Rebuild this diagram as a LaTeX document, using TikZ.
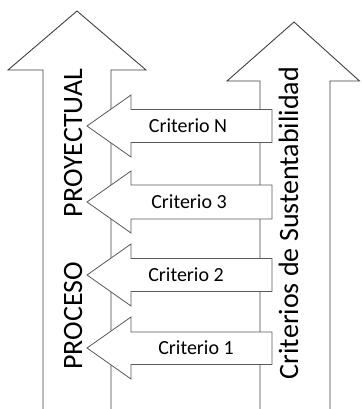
\documentclass[tikz,border=0pt]{standalone}
\usepackage{fontspec}
\setmainfont{Carlito}
\tikzset{
  bigarrow/.style={draw=black!75, fill=white, line width=0.9pt, line join=miter},
  critarrow/.style={draw=black!65, fill=white, line width=0.8pt, line join=miter},
  bigtext/.style={rotate=90, anchor=base, inner sep=0pt, font=\fontsize{28}{30}\selectfont},
  crittext/.style={inner sep=0pt, font=\fontsize{20}{22}\selectfont}
}
\begin{document}
\begin{tikzpicture}[x=1pt, y=-1pt]
        \useasboundingbox (0,0) rectangle (361,409);
        % big arrows
        \draw[bigarrow] (43,412) -- (43,70) -- (8,70) -- (77,11) -- (146,70) -- (111,70) -- (111,412);
        \draw[bigarrow] (260,412) -- (260,81) -- (227,81) -- (294,22) -- (359.5,81) -- (330,81) -- (330,412);
        % criterios
        \draw[critarrow] (272,109.5) -- (131,109.5) -- (131,95) -- (87,126) -- (131,157) -- (131,142.5) -- (272,142.5) -- cycle;
        \draw[critarrow] (272,185) -- (131,185) -- (131,171) -- (87,202) -- (131,233) -- (131,219) -- (272,219) -- cycle;
        \draw[critarrow] (272,258.5) -- (131,258.5) -- (131,244) -- (87,275) -- (131,306) -- (131,291.5) -- (272,291.5) -- cycle;
        \draw[critarrow] (272,332) -- (131,332) -- (131,317) -- (87,348) -- (131,379) -- (131,364.5) -- (272,364.5) -- cycle;
        \node[crittext] (critN) at (188,126) {Criterio N};
        \node[crittext] (crit3) at (189,202) {Criterio 3};
        \node[crittext] (crit2) at (186,275) {Criterio 2};
        \node[crittext] (crit1) at (196,348) {Criterio 1};
        % rotated labels
        \node[bigtext] (proyectual) at (82,143) {PROYECTUAL};
        \node[bigtext] (proceso) at (82,316) {PROCESO};
        \node[bigtext] (sustent) at (298,223) {Criterios de Sustentabilidad};
    \end{tikzpicture}
\end{document}
